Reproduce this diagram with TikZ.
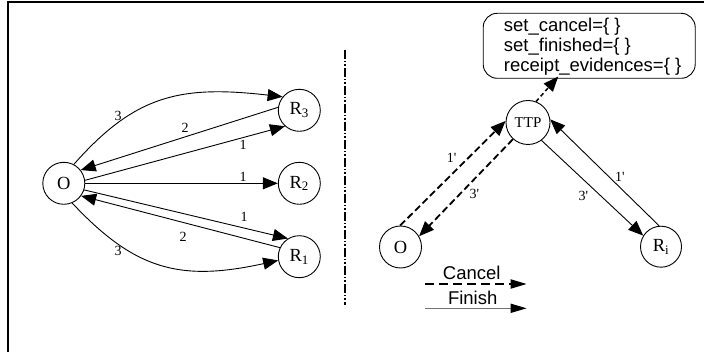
\documentclass[tikz,border=0pt]{standalone}
\usepackage{fontspec}
\setmainfont{Liberation Serif}
\setsansfont{Liberation Sans}
\usetikzlibrary{arrows.meta}
\begin{document}
\begin{tikzpicture}[x=1pt,y=-1pt,
  st/.style={circle,draw,line width=0.9pt,minimum size=42pt,inner sep=0pt,font=\fontsize{18.5}{18.5}\selectfont},
  tip/.style={-{Triangle[length=15pt,width=12pt]}},
  arr/.style={line width=0.9pt,tip},
  darr/.style={line width=1.8pt,dash pattern=on 7pt off 3.5pt,tip},
  lab/.style={font=\fontsize{14}{14}\selectfont,inner sep=0pt},
  sans/.style={font=\sffamily\fontsize{18.5}{20}\selectfont,inner sep=0pt},
  legtip/.style={-{Triangle[length=16pt,width=9pt,color=black]}}]
\useasboundingbox (0,0) rectangle (704,352);
% frame
\draw[line width=1.6pt] (8,352) -- (8,2) -- (704,2);
% separator
\draw[line width=2pt,dash pattern=on 9pt off 2pt on 1.5pt off 2pt on 1.5pt off 2pt] (345,50) -- (345,305);
% left part
\node[st] (O) at (63.8,183.3) {O};
\node[st] (R3) at (299.3,110.3) {R\textsubscript{3}};
\node[st] (R2) at (299.3,183.3) {R\textsubscript{2}};
\node[st] (R1) at (299.3,256.7) {R\textsubscript{1}};
\draw[arr] (O.62) .. controls (135,95) and (180,85) .. (R3.141);
\draw[arr] (R3.172) -- (O.38);
\draw[arr] (O.8) -- (R3.228);
\draw[arr] (O) -- (R2);
\draw[arr] (O.-18) -- (R1.122);
\draw[arr] (R1.155) -- (O.-36);
\draw[arr] (O.-67) .. controls (135,270) and (180,282) .. (R1.190);
\node[lab] (l3a) at (118,116) {3};
\node[lab] (l2a) at (185,128) {2};
\node[lab] (l1a) at (243,145) {1};
\node[lab] (l1b) at (243,177) {1};
\node[lab] (l1c) at (244,217) {1};
\node[lab] (l2b) at (183,237) {2};
\node[lab] (l3b) at (118,251) {3};
% right part
\node[st] (O2) at (400.5,247) {O};
\node[st,minimum size=44pt,font=\fontsize{15}{15}\selectfont] (T) at (528,122.5) {TTP};
\node[st,minimum size=41pt] (Ri) at (661,246.7) {R\textsubscript{i}};
\node[draw,rounded corners=14pt,line width=0.9pt,minimum width=212pt,minimum height=65pt] (B) at (589.2,45.8) {};
\node[sans,align=left,anchor=north west] (Btext) at (503.7,17.4) {set\_cancel=\{ \}\\set\_finished=\{ \}\\receipt\_evidences=\{ \}};
\draw[line width=1.5pt,dash pattern=on 4pt off 3pt,tip,shorten >=-3pt] (T.69) -- (B.225);
\draw[darr] (O2.91) -- (T.176);
\draw[darr] (T.228) -- (O2.30);
\draw[arr] (T.-53) -- (Ri.148);
\draw[arr] (Ri.95) -- (T.8);
\node[lab] (p1a) at (451.7,158.3) {1\textquotesingle};
\node[lab] (p3a) at (474.3,194) {3\textquotesingle};
\node[lab] (p1b) at (620,177.3) {1\textquotesingle};
\node[lab] (p3b) at (583.3,196) {3\textquotesingle};
% legend
\node[sans] (cancel) at (471.7,272.7) {Cancel};
\coordinate (c1) at (425,284);
\coordinate (c2) at (526.7,284);
\draw[line width=1.8pt,dash pattern=on 9pt off 5pt,legtip] (c1) -- (c2);
\node[sans] (finish) at (472.7,298.3) {Finish};
\coordinate (f1) at (425,308.3);
\coordinate (f2) at (526.7,308.3);
\draw[line width=1.5pt,draw=black!55,legtip] (f1) -- (f2);
\end{tikzpicture}
\end{document}
